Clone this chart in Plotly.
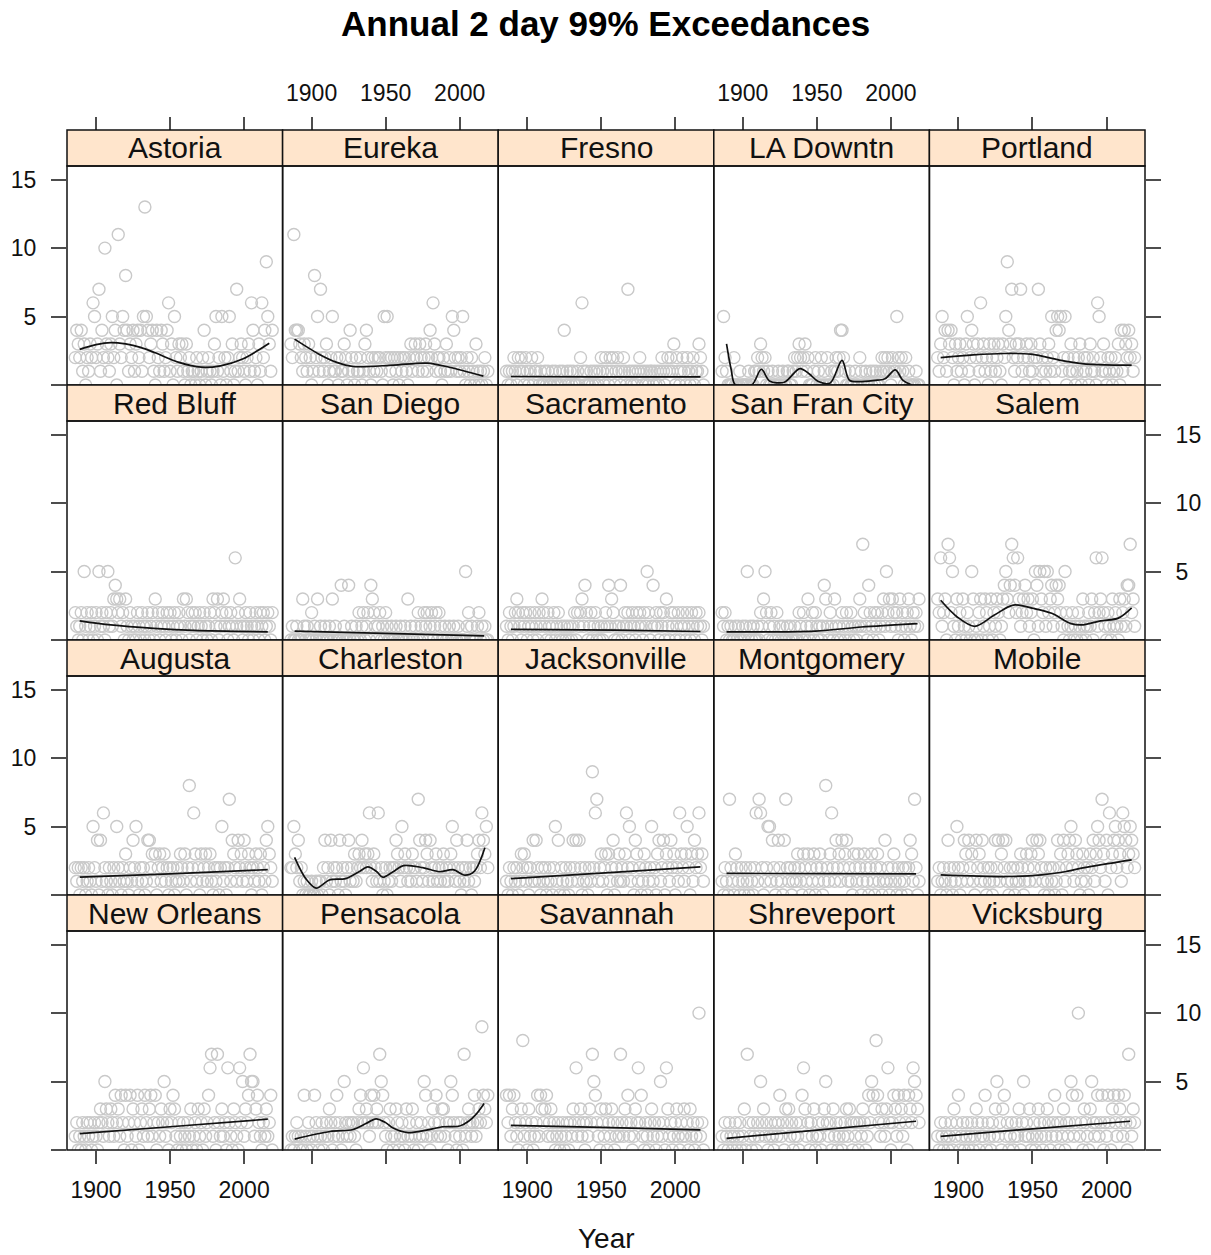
import plotly.graph_objects as go

W, H = 1211, 1255
FONT = "Liberation Sans, Arial, Helvetica, sans-serif"

years = list(range(1886, 2020))
x_ticks = [1900, 1950, 2000]
x_tick_text = ["1900", "1950", "2000"]
y_ticks = [0, 5, 10, 15]
y_tick_text = ["", "5", "10", "15"]

names = ["Astoria", "Eureka", "Fresno", "LA Downtn", "Portland",
         "Red Bluff", "San Diego", "Sacramento", "San Fran City", "Salem",
         "Augusta", "Charleston", "Jacksonville", "Montgomery", "Mobile",
         "New Orleans", "Pensacola", "Savannah", "Shreveport", "Vicksburg"]

astoria = [2,4,3,2,4,1,3,0,2,1, 3,2,6,5,2,3,7,1,4,2, 10,3,2,1,3,5,2,4,0,11, 3,2,5,4,8,4,1,3,2,4,
           1,3,4,2,4,1,5,13,5,4, 2,3,4,1,0,4,2,1,4,3, 1,2,4,6,1,3,0,5,2,1, 3,2,3,1,0,3,1,2,0,1,
           1,0,2,1,0,1,2,4,0,1, 2,1,0,1,3,5,1,2,0,5, 1,2,0,2,5,1,3,0,1,7, 1,2,3,2,1,0,2,3,1,6,
           4,1,2,0,3,1,6,2,4,9, 5,3,1,4]
astoria_fit_x = [1889, 1900, 1910, 1920, 1930, 1940, 1956, 1971, 1984, 1999, 2017]
astoria_fit_y = [2.6, 2.95, 3.1, 3.0, 2.75, 2.35, 1.65, 1.3, 1.4, 1.9, 3.05]

eureka = [3,2,11,4,4,4,3,2,1,3, 2,1,3,2,0,1,8,2,5,1, 7,2,1,2,3,0,1,2,5,1, 1,2,0,2,1,1,3,2,0,1,
          4,2,1,0,2,1,1,2,0,1, 3,4,2,1,0,2,1,2,1,2, 2,1,0,5,2,5,2,1,2,0, 2,1,2,0,2,1,2,2,1,0,
          2,3,1,2,3,2,1,3,2,1, 2,3,1,2,4,2,6,3,1,2, 2,1,0,2,1,3,1,2,1,5, 4,2,1,2,1,2,5,1,0,2,
          1,0,2,1,0,3,1,0,1,0, 1,2,0,1]
eureka_fit_x = [1888.5, 1905, 1917, 1928, 1955, 1978, 1993, 2016]
eureka_fit_y = [3.35, 2.25, 1.65, 1.35, 1.45, 1.6, 1.3, 0.65]

fresno = [1,0,1,0,1,2,1,0,2,1, 2,1,0,2,1,0,1,2,0,1, 1,2,0,1,0,0,1,0,1,0, 0,1,0,1,0,0,1,0,1,4,
          0,1,0,1,0,1,0,0,1,0, 2,6,1,0,1,0,0,1,0,1, 0,1,0,1,2,1,0,2,1,0, 2,1,2,0,1,2,1,0,1,2,
          1,0,7,1,0,1,0,1,0,1, 2,1,0,1,0,1,0,1,1,0, 1,0,1,0,1,2,1,0,1,2, 1,2,1,3,0,2,1,0,1,2,
          1,0,2,1,0,1,2,0,1,1, 3,2,1,0]
fresno_fit_x = [1889, 1950, 2017]
fresno_fit_y = [0.62, 0.6, 0.6]

la_downtn = [1,5,2,1,0,0,0,0,2,0, 0,0,1,0,0,0,0,0,1,0, 0,0,1,1,2,1,3,2,1,2, 0,1,0,0,1,0,0,0,1,0,
             0,1,0,0,1,1,0,0,1,2, 1,2,3,2,1,2,3,1,2,0, 0,0,1,2,0,1,0,2,0,1, 0,2,0,0,1,0,1,2,1,2,
             4,4,2,1,0,0,1,0,0,0, 1,0,0,2,1,0,0,1,0,0, 1,0,1,0,1,0,0,1,2,1, 2,1,2,1,0,2,1,1,5,2,
             1,2,1,0,2,0,1,0,0,0, 0,1,0,0]
la_downtn_fit_x = [1889, 1892, 1895, 1906, 1912.5, 1918, 1928, 1938.5, 1945, 1951, 1959, 1967, 1972,
                   1980, 1991, 1996, 2003, 2008, 2014]
la_downtn_fit_y = [3.0, 1.2, 0.0, 0.0, 1.15, 0.3, 0.2, 1.2, 0.8, 0.25, 0.15, 1.8, 0.35,
                   0.25, 0.35, 0.45, 1.1, 0.35, 0.0]

portland = [2,1,3,5,2,4,1,4,3,4, 2,0,3,1,2,3,1,2,0,3, 5,1,2,4,3,0,2,3,1,6, 2,3,1,2,0,3,1,2,3,1,
            2,3,1,0,3,2,5,9,4,3, 7,2,1,3,2,3,7,1,2,0, 3,2,1,3,1,2,0,2,7,3, 1,2,0,1,2,3,1,5,2,1,
            4,5,4,5,1,2,5,0,2,1, 3,1,2,0,1,2,3,0,1,2, 1,2,0,3,1,2,1,0,6,5, 2,1,3,1,0,2,1,2,0,1,
            2,1,3,0,4,1,4,3,2,4, 2,3,1,2]
portland_fit_x = [1888, 1910, 1931, 1949, 1972, 1990, 2017]
portland_fit_y = [2.0, 2.2, 2.3, 2.25, 1.75, 1.5, 1.45]

red_bluff = [2,1,0,1,2,0,5,1,2,0, 1,2,0,1,2,0,5,1,2,1, 0,2,5,1,2,1,3,4,3,2, 3,1,2,0,3,1,0,2,1,0,
             1,0,2,1,0,2,1,0,1,2, 0,1,2,0,3,1,2,0,1,2, 1,0,2,1,2,0,1,2,0,1, 2,1,0,3,1,3,2,0,1,2,
             1,2,0,1,2,1,0,2,1,0, 1,2,0,3,2,1,3,0,1,2, 3,1,2,0,1,2,1,0,6,1, 2,3,1,0,1,2,1,0,2,1,
             0,1,2,1,0,2,1,2,0,1, 2,1,0,2]
red_bluff_fit_x = [1889, 1910, 1939, 1966, 2016]
red_bluff_fit_y = [1.4, 1.1, 0.85, 0.7, 0.6]

san_diego = [0,1,0,0,1,0,0,0,3,1, 0,1,0,0,2,0,1,0,3,0, 1,0,0,1,0,0,1,0,3,0, 1,0,0,0,4,0,1,0,0,4,
             0,1,0,0,1,0,2,0,1,2, 0,1,2,0,4,3,2,1,0,1, 2,0,1,0,2,1,0,0,1,0, 0,1,0,0,1,0,0,1,0,3,
             0,1,0,0,1,0,2,0,1,0, 2,1,2,0,1,2,0,1,2,0, 2,1,0,0,1,0,0,1,0,0, 1,0,0,1,0,0,0,0,5,1,
             2,0,1,0,0,0,1,2,0,1, 0,1,0,0]
san_diego_fit_x = [1888.5, 2016.5]
san_diego_fit_y = [0.65, 0.3]

sacramento = [1,0,2,1,0,1,2,3,2,1, 0,2,1,2,0,1,2,1,0,2, 1,0,2,1,3,2,1,0,2,1, 0,1,2,0,1,2,0,1,0,1,
              0,1,0,1,0,1,2,0,2,1, 2,3,1,4,2,0,1,2,0,1, 2,0,1,0,1,0,1,2,1,4, 1,3,2,0,1,0,1,4,0,1,
              2,1,2,0,1,2,1,0,2,1, 2,1,0,2,1,5,2,0,1,4, 1,2,1,0,2,1,2,0,3,1, 0,2,1,2,0,1,2,0,1,2,
              1,0,2,1,0,2,1,0,2,1, 2,1,0,1]
sacramento_fit_x = [1889, 1960, 2017]
sacramento_fit_y = [0.78, 0.72, 0.62]

san_fran_city = [2,1,2,0,1,0,1,0,0,1, 0,1,0,0,1,0,1,5,0,1, 0,1,0,0,1,0,2,1,3,5, 2,0,1,2,0,1,0,2,0,1,
                 0,1,0,0,1,0,1,0,0,1, 0,0,2,1,0,2,0,1,3,0, 1,2,0,2,1,0,1,0,1,4, 3,1,0,2,1,0,3,1,0,1,
                 0,2,1,0,2,1,0,2,1,0, 1,0,1,3,1,7,2,1,0,4, 2,1,0,2,1,2,0,1,2,3, 1,5,2,3,1,3,2,1,2,0,
                 3,1,2,0,1,2,3,1,0,2, 1,2,1,3]
san_fran_city_fit_x = [1889, 1949, 1980, 2018]
san_fran_city_fit_y = [0.6, 0.65, 0.95, 1.2]

salem = [3,2,6,1,2,3,0,7,6,2, 5,1,0,3,1,2,0,3,1,0, 2,1,0,5,3,0,1,0,2,3, 0,1,3,2,0,1,3,0,2,1,
         3,2,0,1,3,4,5,3,2,4, 7,6,4,2,6,3,1,2,3,4, 2,3,1,2,3,0,5,4,1,5, 3,2,5,1,5,2,3,4,1,2,
         4,3,4,2,1,0,5,2,1,0, 1,2,0,1,0,2,1,0,3,1, 0,1,2,1,3,0,2,6,1,2, 3,6,2,1,0,2,1,0,3,1,
         2,1,0,3,1,2,3,1,4,4, 7,2,3,1]
salem_fit_x = [1888, 1899, 1911, 1924, 1937, 1951, 1963, 1976, 1983, 1996, 2008, 2017]
salem_fit_y = [2.9, 1.7, 1.0, 1.8, 2.55, 2.3, 1.95, 1.2, 1.1, 1.4, 1.6, 2.35]

augusta = [2,1,2,0,2,1,2,0,1,2, 1,0,5,2,1,4,0,4,1,6, 2,1,0,2,1,0,2,1,5,2, 1,0,2,1,3,1,0,2,1,4,
           2,5,1,0,2,1,2,0,1,4, 4,2,3,1,3,0,2,3,1,2, 3,1,2,0,2,1,2,0,1,2, 1,3,2,1,3,0,2,8,1,2,
           6,3,1,2,0,3,1,2,3,1, 2,3,1,0,2,1,2,0,2,5, 1,2,0,2,7,1,4,3,2,1, 4,2,3,1,4,2,1,3,2,0,
           2,1,3,2,1,3,0,2,1,4, 5,3,2,1]
augusta_fit_x = [1889, 1950, 2016]
augusta_fit_y = [1.3, 1.55, 1.85]

charleston = [2,2,5,3,2,4,1,2,0,1, 0,1,0,0,1,0,0,1,0,1, 1,0,2,4,1,2,0,4,1,2, 1,2,0,4,1,2,1,0,2,4,
              1,2,1,3,1,2,3,2,4,2, 3,2,3,6,2,1,3,2,1,6, 1,2,0,1,2,0,1,2,1,2, 2,4,3,2,1,5,2,3,2,1,
              2,1,3,2,2,1,7,4,2,1, 2,4,3,1,4,2,1,2,3,1, 2,1,2,3,1,2,1,2,3,5, 2,1,4,2,1,0,2,1,2,4,
              1,2,0,2,1,2,3,4,2,6, 4,3,5,2]
charleston_fit_x = [1888.5, 1896, 1903, 1912, 1923, 1932, 1938, 1944, 1948, 1955, 1962, 1975,
                    1986.5, 1995.5, 2003.5, 2010, 2017]
charleston_fit_y = [2.75, 1.2, 0.5, 1.1, 1.2, 1.7, 2.05, 1.7, 1.3, 1.7, 2.15, 2.0,
                    1.7, 1.85, 1.45, 1.75, 3.45]

jacksonville = [1,0,2,1,0,2,1,2,0,1, 3,2,3,1,2,0,2,1,4,1, 4,2,1,0,2,1,2,0,1,2, 1,0,2,5,1,4,0,2,1,0,
                2,1,0,2,1,4,2,4,1,4, 2,0,1,2,1,0,2,1,9,2, 6,7,1,2,3,1,2,3,0,3, 1,2,4,0,2,1,3,1,2,1,
                3,6,2,5,1,2,0,4,3,1, 2,0,1,3,2,0,1,2,5,1, 2,0,3,4,1,2,4,0,3,2, 1,4,2,3,0,2,1,6,3,2,
                1,3,5,2,0,3,1,4,2,3, 6,2,3,1]
jacksonville_fit_x = [1889, 1950, 2017]
jacksonville_fit_y = [1.2, 1.6, 2.05]

montgomery = [1,0,2,1,0,7,2,1,0,3, 2,1,0,2,1,0,2,1,0,2, 1,0,2,6,1,7,6,2,0,1, 2,5,5,1,4,2,0,1,4,2,
              1,0,4,7,2,1,2,0,1,2, 1,3,2,1,0,3,2,1,3,0, 2,1,3,0,2,1,3,2,0,1, 8,2,1,3,6,2,1,4,2,3,
              1,4,2,3,4,1,2,1,0,3, 2,1,3,2,0,1,3,2,1,0, 2,3,1,0,2,3,1,2,0,1, 4,1,2,0,1,2,3,1,0,2,
              1,0,2,1,2,0,2,4,3,1, 7,2,0,1]
montgomery_fit_x = [1889, 1950, 2017]
montgomery_fit_y = [1.58, 1.56, 1.55]

mobile = [1,2,0,1,2,1,0,4,2,1, 0,2,1,5,2,0,1,2,4,3, 1,4,2,3,1,0,4,2,3,1, 4,2,1,0,2,1,2,0,1,4,
          2,4,1,3,4,2,4,1,0,2, 1,2,0,1,2,1,3,2,0,1, 3,2,1,3,4,2,1,4,3,4, 2,1,0,2,1,0,2,1,2,0,
          1,4,2,3,0,4,1,2,3,4, 5,2,1,4,3,2,0,1,3,2, 1,2,0,3,2,4,1,3,5,4, 2,7,3,1,4,0,6,2,3,4,
          5,2,4,3,1,6,5,4,2,3, 5,4,3,2]
mobile_fit_x = [1888, 1933, 1956, 1972, 1985, 2017]
mobile_fit_y = [1.47, 1.35, 1.47, 1.7, 2.0, 2.57]

new_orleans = [1,2,0,1,0,2,1,0,2,1, 2,0,1,2,1,0,2,3,2,1, 5,3,2,1,3,2,1,4,2,3, 1,4,2,0,4,1,2,4,0,3,
               2,1,4,0,2,3,1,4,2,1, 3,4,1,2,4,0,2,1,3,2, 5,1,2,0,3,2,4,3,1,0, 2,1,0,2,1,0,2,1,3,0,
               1,2,0,3,1,2,0,3,1,2, 4,6,7,1,2,0,7,2,1,3, 1,2,0,6,2,1,0,3,2,1, 0,6,2,5,1,3,2,4,7,5,
               5,1,3,4,2,1,0,2,1,3, 1,2,4,0]
new_orleans_fit_x = [1889, 1950, 2016]
new_orleans_fit_y = [1.2, 1.7, 2.25]

pensacola = [0,1,0,1,2,1,0,1,0,4, 1,0,2,1,0,1,4,2,1,0, 1,2,0,1,2,1,3,2,0,1, 2,4,1,2,0,1,5,2,1,2,
             1,2,2,1,0,2,3,4,2,6, 2,3,2,1,4,2,4,2,3,2, 7,5,4,2,1,0,2,3,1,0, 1,3,2,0,1,2,1,0,3,1,
             2,1,3,0,1,2,0,1,2,1, 5,4,1,2,0,1,3,2,4,1, 2,1,3,3,1,2,0,2,5,4, 2,1,0,2,1,2,0,7,1,2,
             3,2,1,2,4,1,2,3,2,9, 4,3,2,4]
pensacola_fit_x = [1888.5, 1912.5, 1928, 1937, 1943.5, 1950, 1955, 1965, 1977.5, 1988.5, 2000, 2006,
                   2011, 2016.5]
pensacola_fit_y = [0.8, 1.35, 1.5, 1.95, 2.28, 2.0, 1.6, 1.27, 1.45, 1.7, 1.75, 2.1,
                   2.6, 3.4]

savannah = [4,2,4,1,3,4,2,1,0,2, 3,8,1,2,0,3,1,2,0,1, 2,4,1,4,3,2,3,4,1,2, 3,1,2,0,1,2,0,1,2,0,
            1,2,0,2,1,3,2,6,1,2, 3,1,2,0,2,1,3,2,7,5, 4,2,1,0,3,2,1,3,0,2, 1,3,2,0,1,2,1,7,2,1,
            3,2,4,1,2,0,1,3,2,6, 2,4,1,0,2,1,0,2,3,1, 2,0,1,2,5,1,2,0,6,3, 1,2,0,1,2,3,1,0,2,1,
            3,1,2,0,3,1,2,0,1,2, 10,1,2,0]
savannah_fit_x = [1889, 1950, 2017]
savannah_fit_y = [1.8, 1.65, 1.47]

shreveport = [1,0,2,1,0,2,1,0,1,2, 0,1,2,0,1,3,0,7,2,1, 0,2,1,0,2,1,5,2,3,1, 2,0,1,2,1,0,2,1,2,4,
              1,2,0,3,2,3,1,2,0,1, 2,1,0,2,4,6,3,1,2,0, 2,1,3,0,1,2,1,0,2,3, 5,2,1,2,0,3,1,2,0,1,
              2,0,1,2,3,1,3,2,0,2, 1,2,0,2,1,3,2,0,1,4, 2,5,4,3,8,4,2,1,3,2, 1,3,6,2,0,2,4,3,1,4,
              2,3,1,4,2,0,4,3,2,6, 5,4,3,2]
shreveport_fit_x = [1889, 1950, 2017]
shreveport_fit_y = [0.85, 1.45, 2.1]

vicksburg = [1,0,2,1,0,2,1,0,1,2, 0,3,1,2,4,0,1,2,0,1, 2,0,1,2,0,1,3,2,0,1, 2,1,4,0,2,1,0,2,1,3,
             5,1,2,0,3,4,1,2,0,1, 2,0,1,2,1,3,0,2,5,1, 2,1,3,0,1,2,0,1,3,2, 1,0,2,1,3,2,0,1,2,4,
             1,2,0,2,1,3,0,2,1,2, 5,4,1,2,4,10,1,2,0,3, 2,1,0,3,5,2,1,2,4,1, 2,4,0,2,1,4,2,0,3,4,
             2,1,4,3,2,1,4,2,0,7, 2,1,3,2]
vicksburg_fit_x = [1888, 1950, 2016]
vicksburg_fit_y = [1.0, 1.55, 2.1]

panel_values = [astoria, eureka, fresno, la_downtn, portland,
                red_bluff, san_diego, sacramento, san_fran_city, salem,
                augusta, charleston, jacksonville, montgomery, mobile,
                new_orleans, pensacola, savannah, shreveport, vicksburg]
panel_fit_x = [astoria_fit_x, eureka_fit_x, fresno_fit_x, la_downtn_fit_x, portland_fit_x,
               red_bluff_fit_x, san_diego_fit_x, sacramento_fit_x, san_fran_city_fit_x, salem_fit_x,
               augusta_fit_x, charleston_fit_x, jacksonville_fit_x, montgomery_fit_x, mobile_fit_x,
               new_orleans_fit_x, pensacola_fit_x, savannah_fit_x, shreveport_fit_x, vicksburg_fit_x]
panel_fit_y = [astoria_fit_y, eureka_fit_y, fresno_fit_y, la_downtn_fit_y, portland_fit_y,
               red_bluff_fit_y, san_diego_fit_y, sacramento_fit_y, san_fran_city_fit_y, salem_fit_y,
               augusta_fit_y, charleston_fit_y, jacksonville_fit_y, montgomery_fit_y, mobile_fit_y,
               new_orleans_fit_y, pensacola_fit_y, savannah_fit_y, shreveport_fit_y, vicksburg_fit_y]

# ---- layout geometry (pixels) ----
COL_LEFT, COL_W = 67.0, 215.6
ROW_TOP, ROW_H, STRIP_H = 130.0, 255.0, 36.0
TICK_COLOR = "#4d4d4d"
X_RANGE = [1880.4, 2026.0]

fig = go.Figure()
shapes, annotations = [], []
layout_axes = {}

def px_x(p):
    return p / W

def px_y(p):
    return 1 - p / H

for k, name in enumerate(names):
    r, c = divmod(k, 5)
    i = k + 1
    xa = "x" if i == 1 else f"x{i}"
    ya = "y" if i == 1 else f"y{i}"
    x0 = COL_LEFT + c * COL_W
    x1 = x0 + COL_W
    st = ROW_TOP + r * ROW_H
    pt = st + STRIP_H
    pb = st + ROW_H

    vals = panel_values[k]
    fig.add_trace(go.Scatter(
        x=years[:len(vals)], y=vals, mode="markers", xaxis=xa, yaxis=ya,
        marker=dict(symbol="circle-open", size=12, color="#c9c9c9", line=dict(width=1.4)),
        showlegend=False, hoverinfo="skip"))
    fig.add_trace(go.Scatter(
        x=panel_fit_x[k], y=panel_fit_y[k], mode="lines", xaxis=xa, yaxis=ya,
        line=dict(color="#111111", width=1.7, shape="spline", smoothing=0.9),
        showlegend=False, hoverinfo="skip"))

    xd = dict(domain=[px_x(x0), px_x(x1)], range=X_RANGE,
              showgrid=False, zeroline=False, showline=False,
              tickvals=x_ticks, ticktext=x_tick_text,
              tickfont=dict(family=FONT, size=23, color="#111111"),
              ticklen=13, tickwidth=2, tickcolor=TICK_COLOR)
    if r == 0:
        xd.update(anchor="free", position=px_y(st), side="top", ticks="outside",
                  showticklabels=False)
    elif r == 3:
        xd.update(anchor=ya, side="bottom", ticks="outside",
                  showticklabels=(c in (0, 2, 4)), ticklabelstandoff=6)
    else:
        xd.update(anchor=ya, ticks="", showticklabels=False)

    yd = dict(domain=[px_y(pb), px_y(pt)], range=[0, 16],
              showgrid=False, zeroline=False, showline=False,
              tickvals=y_ticks, ticktext=y_tick_text,
              tickfont=dict(family=FONT, size=23, color="#111111"),
              ticklen=15, tickwidth=2, tickcolor=TICK_COLOR, anchor=xa)
    if c == 0:
        yd.update(side="left", ticks="outside", showticklabels=(r in (0, 2)), ticklabelstandoff=10)
    elif c == 4:
        yd.update(side="right", ticks="outside", showticklabels=(r in (1, 3)), ticklabelstandoff=10)
    else:
        yd.update(ticks="", showticklabels=False)

    layout_axes["xaxis" if i == 1 else f"xaxis{i}"] = xd
    layout_axes["yaxis" if i == 1 else f"yaxis{i}"] = yd

    # strip
    shapes.append(dict(type="rect", xref="paper", yref="paper",
                       x0=px_x(x0), x1=px_x(x1), y0=px_y(pt), y1=px_y(st),
                       fillcolor="#FFE5CC", line=dict(color="#111111", width=1.5), layer="above"))
    # panel border
    shapes.append(dict(type="rect", xref="paper", yref="paper",
                       x0=px_x(x0), x1=px_x(x1), y0=px_y(pb), y1=px_y(pt),
                       line=dict(color="#111111", width=1.5), layer="above"))
    annotations.append(dict(text=name, xref="paper", yref="paper",
                            x=px_x((x0 + x1) / 2), y=px_y(st + STRIP_H / 2),
                            xanchor="center", yanchor="middle", showarrow=False,
                            font=dict(family=FONT, size=30, color="#111111")))

# top tick labels for columns 2 and 4 (alternating, lattice style) on overlay axes
for n, c in enumerate((1, 3)):
    base = c + 1
    idx = 21 + n
    layout_axes[f"xaxis{idx}"] = dict(
        overlaying=f"x{base}", anchor="free", position=px_y(106), side="top",
        range=X_RANGE, showgrid=False, zeroline=False, showline=False,
        tickvals=x_ticks, ticktext=x_tick_text, ticks="", ticklen=0,
        tickfont=dict(family=FONT, size=23, color="#111111"), showticklabels=True)
    fig.add_trace(go.Scatter(x=[None], y=[None], mode="markers", xaxis=f"x{idx}",
                             yaxis=f"y{base}", showlegend=False, hoverinfo="skip"))

annotations.append(dict(text="<b>Annual 2 day 99% Exceedances</b>", xref="paper", yref="paper",
                        x=px_x(605), y=px_y(24), xanchor="center", yanchor="middle",
                        showarrow=False, font=dict(family=FONT, size=35, color="#000000")))
annotations.append(dict(text="Year", xref="paper", yref="paper",
                        x=px_x(606), y=px_y(1238), xanchor="center", yanchor="middle",
                        showarrow=False, font=dict(family=FONT, size=28, color="#111111")))

fig.update_layout(width=W, height=H, margin=dict(l=0, r=0, t=0, b=0),
                  paper_bgcolor="white", plot_bgcolor="white",
                  shapes=shapes, annotations=annotations, **layout_axes)

fig.write_html("out.html", config={"displayModeBar": False},
               post_script="document.body.style.margin='0px';document.body.style.overflow='hidden';")
